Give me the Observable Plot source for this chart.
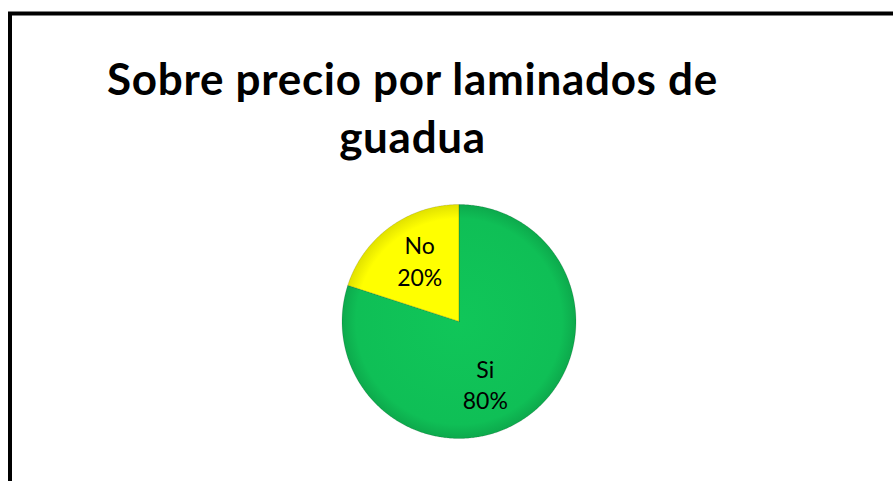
<!DOCTYPE html>
<html><head><meta charset="utf-8">
<script src="https://cdn.jsdelivr.net/npm/d3@7"></script>
<script src="https://cdn.jsdelivr.net/npm/@observablehq/plot@0.6"></script>
<style>
html,body{margin:0;padding:0;background:#fff;overflow:hidden;}
#chart{position:relative;width:893px;height:481px;}
#chart svg{display:block;}
</style></head><body><div id="chart"></div>
<script>
// ---- data ----
const categories = ["Si", "No"];
const values = [80, 20];
const percentLabels = ["80%", "20%"];
const sliceColors = ["#0FBF56", "#FFFF00"];
const titleLines = ["Sobre precio por laminados de", "guadua"];

// ---- layout ----
const W = 893, H = 481;
const cx = 458.5, cy = 321, R = 117;
const labelNudge = {Si: [-15, 5], No: [2, -5]};

const pie = d3.pie().sort(null).value(d => d.value);
const arcs = pie(categories.map((c, i) => ({category: c, value: values[i], label: percentLabels[i], i})));

function slicePoints(a) {
  const pts = [{x: cx, y: cy}];
  const n = Math.max(2, Math.ceil((a.endAngle - a.startAngle) / (Math.PI / 360)));
  for (let k = 0; k <= n; k++) {
    const t = a.startAngle + (a.endAngle - a.startAngle) * k / n;
    pts.push({x: cx + R * Math.sin(t), y: cy - R * Math.cos(t)});
  }
  pts.push({x: cx, y: cy});
  return pts;
}

const labelR = 0.6 * R;
const labels = arcs.map(a => {
  const m = (a.startAngle + a.endAngle) / 2;
  const [nx, ny] = labelNudge[a.data.category] || [0, 0];
  return {x: cx + labelR * Math.sin(m) + nx, y: cy - labelR * Math.cos(m) + ny, text: a.data.category + "\n" + a.data.label};
});

const titleData = titleLines.map((t, i) => ({t, i}));

const plot = Plot.plot({
  width: W, height: H,
  margin: 0,
  x: {domain: [0, W], range: [0, W], axis: null},
  y: {domain: [0, H], range: [0, H], axis: null},
  style: {background: "white", overflow: "visible"},
  marks: [
    Plot.rect([0], {x1: 10, y1: 13.5, x2: W + 20, y2: H + 20, fill: "none", stroke: "black", strokeWidth: 4}),
    ...arcs.map((a, i) => Plot.line(slicePoints(a), {x: "x", y: "y", fill: `url(#grad${i})`, stroke: "none", curve: "linear"})),
    ...arcs.map((a, i) => Plot.line(slicePoints(a), {x: "x", y: "y", fill: "none", stroke: "#000", strokeOpacity: 0.12, strokeWidth: 1})),
    Plot.text(labels, {x: "x", y: "y", text: "text", fontSize: 23, fontFamily: "Lato", lineHeight: 1.38, fill: "black", textAnchor: "middle"}),
    Plot.text(titleData, {x: 412, y: d => d.i === 0 ? 80 : 138, text: "t", fontSize: 44, fontWeight: "bold", fontFamily: "Lato", fill: "black", textAnchor: "middle"})
  ]
});

const svg = d3.select(plot);
// slightly wider tracking on the title to match the reference face
svg.selectAll("text").filter(function() { return titleLines.includes(this.textContent); })
  .style("letter-spacing", "0.7px");

// gradients for a subtle 3D look
const defs = svg.insert("defs", ":first-child");
sliceColors.forEach((c, i) => {
  const base = d3.color(c);
  const g = defs.append("radialGradient").attr("id", `grad${i}`)
    .attr("gradientUnits", "userSpaceOnUse").attr("cx", cx).attr("cy", cy).attr("r", R);
  g.append("stop").attr("offset", "0%").attr("stop-color", base.brighter(0.1).formatHex());
  g.append("stop").attr("offset", "88%").attr("stop-color", base.formatHex());
  g.append("stop").attr("offset", "100%").attr("stop-color", base.darker(0.35).formatHex());
});

document.getElementById("chart").appendChild(plot);
</script>
</body></html>
